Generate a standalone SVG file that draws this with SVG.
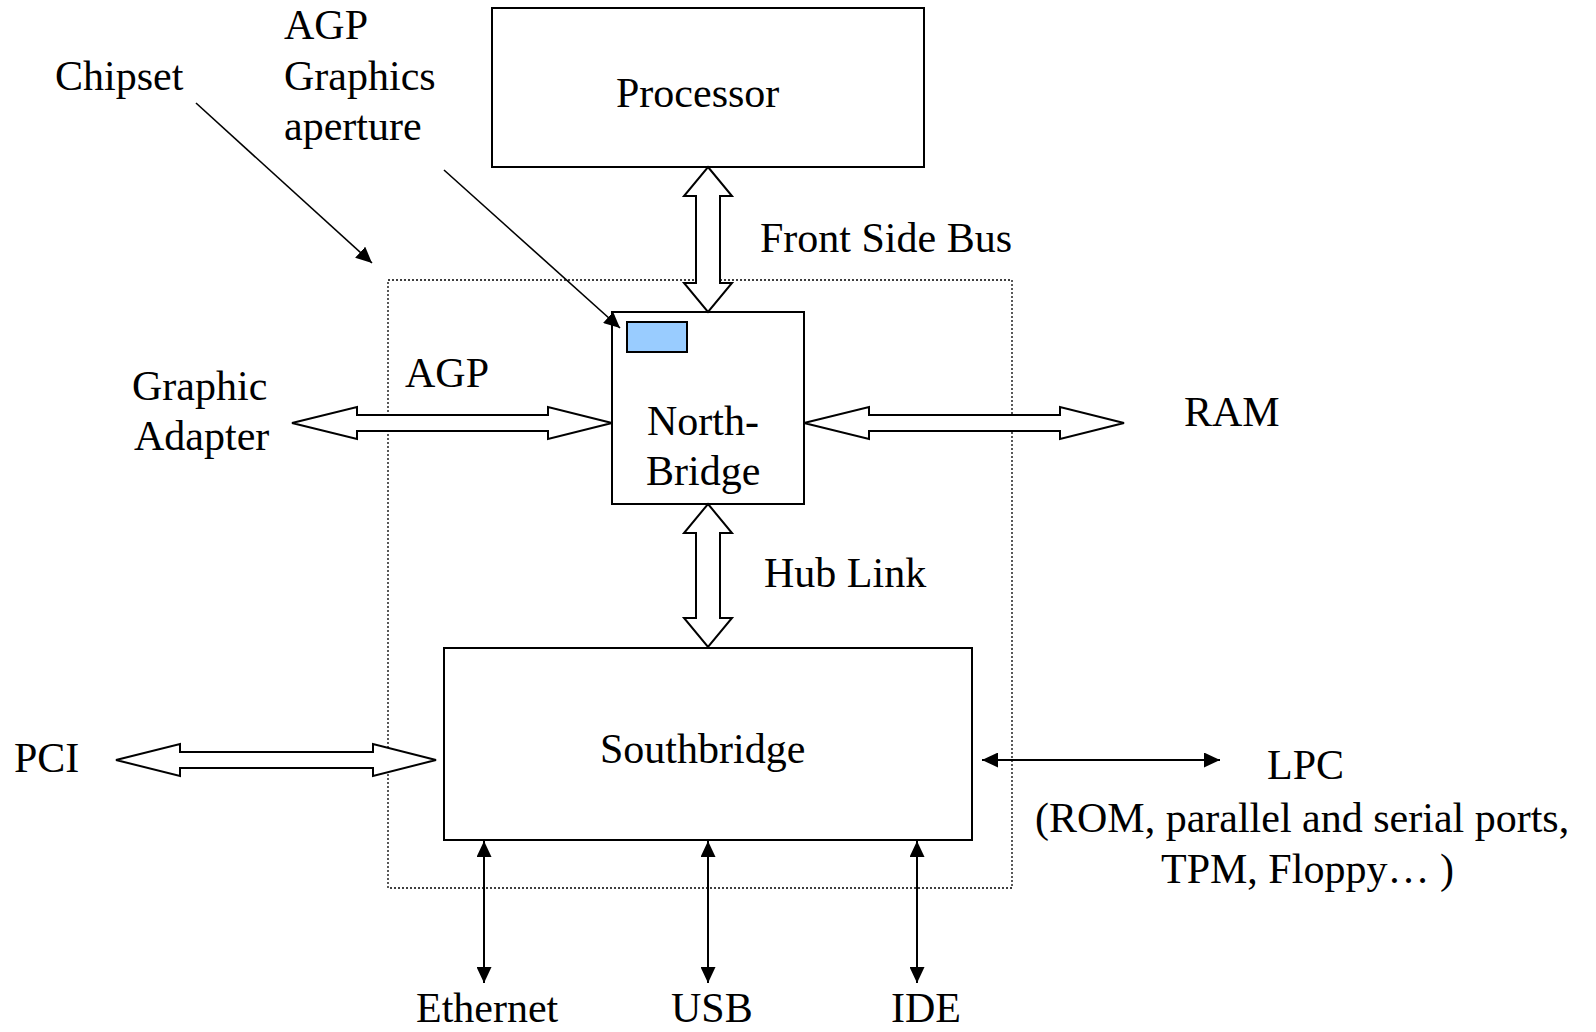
<svg xmlns="http://www.w3.org/2000/svg" width="1596" height="1032" viewBox="0 0 1596 1032">
<style>
text { font-family: "Liberation Serif", "Times New Roman", serif; font-size: 42px; fill: #000; }
.box { fill: #fff; stroke: #000; stroke-width: 2; }
.chip { fill: none; stroke: #000; stroke-width: 1.3; stroke-dasharray: 2 2; }
.block { fill: #fff; stroke: #000; stroke-width: 2; stroke-linejoin: miter; }
.thin { fill: none; stroke: #000; stroke-width: 2; }
.pointer { fill: none; stroke: #000; stroke-width: 1.6; }
</style>
<defs>
<marker id="head" viewBox="0 0 16 15" refX="16" refY="7.5" markerWidth="16" markerHeight="15" markerUnits="userSpaceOnUse" orient="auto-start-reverse">
<path d="M0,0 L16,7.5 L0,15 z" fill="#000"/>
</marker>
</defs>
<rect width="1596" height="1032" fill="#fff"/>

<g id="chipset-boundary">
<rect class="chip" x="388" y="280" width="624" height="608"/>
</g>

<g id="processor">
<rect class="box" x="492" y="8" width="432" height="159"/>
<text x="616" y="107">Processor</text>
</g>

<g id="northbridge">
<rect class="box" x="612" y="312" width="192" height="192"/>
<rect id="agp-aperture" x="627" y="322" width="60" height="30" fill="#99ccff" stroke="#000" stroke-width="2"/>
<text x="647" y="435">North-</text>
<text x="646" y="485">Bridge</text>
</g>

<g id="southbridge">
<rect class="box" x="444" y="648" width="528" height="192"/>
<text x="600" y="763">Southbridge</text>
</g>

<g id="labels">
<text x="55" y="90">Chipset</text>
<text x="284" y="39">AGP</text>
<text x="284" y="90">Graphics</text>
<text x="284" y="140">aperture</text>
<text x="760" y="252">Front Side Bus</text>
<text x="405" y="387">AGP</text>
<text x="132" y="400">Graphic</text>
<text x="134" y="450">Adapter</text>
<text x="1184" y="426">RAM</text>
<text x="764" y="587">Hub Link</text>
<text x="14" y="772">PCI</text>
<text x="1267" y="779">LPC</text>
<text x="1035" y="832">(ROM, parallel and serial ports,</text>
<text x="1161" y="883">TPM, Floppy… )</text>
<text x="416" y="1022">Ethernet</text>
<text x="671" y="1022">USB</text>
<text x="891" y="1022">IDE</text>
</g>

<g id="connectors">
<polygon id="fsb" class="block" points="708,167 732,196 720,196 720,283 732,283 708,312 684,283 696,283 696,196 684,196"/>
<polygon id="hublink" class="block" points="708,504 732,533 720,533 720,618 732,618 708,647 684,618 696,618 696,533 684,533"/>
<polygon id="agp" class="block" points="292,423 357,407 357,415 548,415 548,407 612,423 548,439 548,431 357,431 357,439"/>
<polygon id="ram" class="block" points="804,423 869,407 869,415 1060,415 1060,407 1124,423 1060,439 1060,431 869,431 869,439"/>
<polygon id="pci" class="block" points="116,760 180,744 180,752 373,752 373,744 436,760 373,776 373,768 180,768 180,776"/>
<line id="lpc" class="thin" x1="982" y1="760" x2="1220" y2="760" marker-start="url(#head)" marker-end="url(#head)"/>
<line id="ethernet" class="thin" x1="484" y1="841" x2="484" y2="983" marker-start="url(#head)" marker-end="url(#head)"/>
<line id="usb" class="thin" x1="708" y1="841" x2="708" y2="983" marker-start="url(#head)" marker-end="url(#head)"/>
<line id="ide" class="thin" x1="917" y1="841" x2="917" y2="983" marker-start="url(#head)" marker-end="url(#head)"/>
<line id="chipset-pointer" class="pointer" x1="196" y1="103" x2="372" y2="263" marker-end="url(#head)"/>
<line id="aperture-pointer" class="pointer" x1="444" y1="170" x2="620" y2="328" marker-end="url(#head)"/>
</g>
</svg>
